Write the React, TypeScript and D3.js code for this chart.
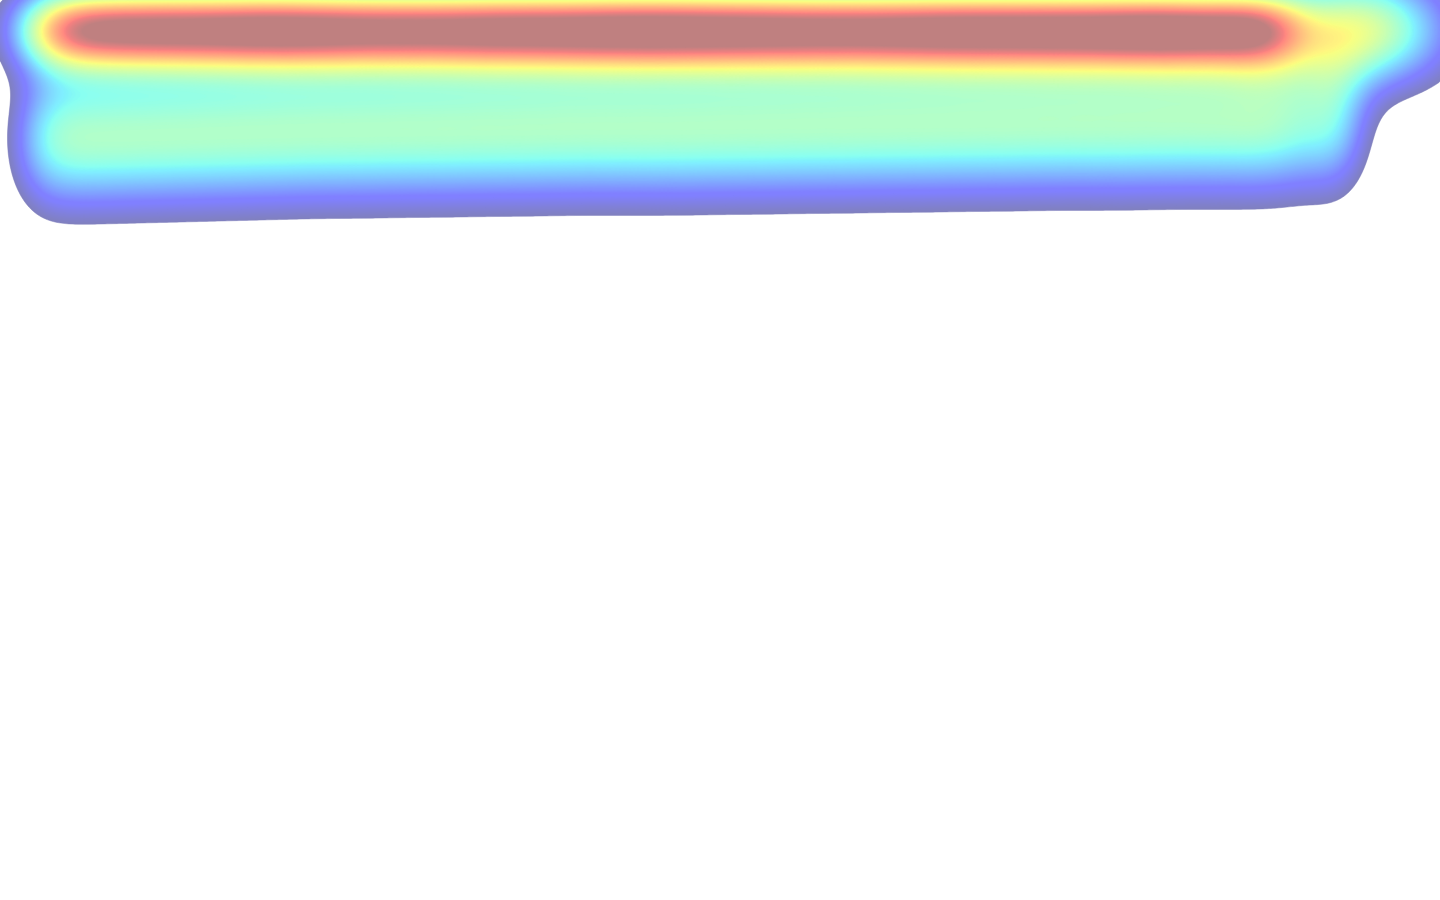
import React, { useEffect, useMemo } from 'react'
import * as d3 from 'd3'

// Gaze fixations (page px, relative dwell)
// Header strip: one long row of fixations along the top of the page
const headerX = [49, 89, 129, 169, 209, 249, 289, 329, 369, 409, 449, 489, 529, 569, 609, 649, 689, 729, 769, 809, 849, 889, 929, 969, 1009, 1049, 1089, 1129, 1169, 1209, 1249, 1275]
const headerY = [29, 29, 29, 29, 29, 29, 29, 29, 29, 29, 29, 29, 29, 29, 29, 29, 29, 29, 29, 29, 29, 29, 29, 29, 29, 29, 29, 29, 29, 29, 29, 29]
const headerDwell = [0.47, 0.48, 0.49, 0.49, 0.49, 0.5, 0.5, 0.49, 0.48, 0.48, 0.48, 0.49, 0.49, 0.49, 0.5, 0.5, 0.5, 0.49, 0.49, 0.48, 0.48, 0.48, 0.49, 0.49, 0.49, 0.49, 0.49, 0.5, 0.5, 0.49, 0.4, 0.3]

// Content block below the header: softer, wider spread
const bodyX = [45, 85, 125, 165, 205, 245, 285, 325, 365, 405, 445, 485, 525, 565, 605, 645, 685, 725, 765, 805, 845, 885, 925, 965, 1005, 1045, 1085, 1125, 1165, 1205, 1245, 1285, 1333]
const bodyY = [139, 138, 137, 136, 135, 134, 133, 132, 132, 131, 131, 130, 130, 129, 129, 129, 129, 128, 128, 127, 127, 126, 126, 125, 125, 124, 124, 124, 123, 123, 123, 123, 123]
const bodyDwell = [0.328, 0.328, 0.328, 0.328, 0.328, 0.328, 0.328, 0.328, 0.328, 0.328, 0.328, 0.328, 0.328, 0.328, 0.328, 0.328, 0.328, 0.328, 0.328, 0.328, 0.328, 0.328, 0.328, 0.328, 0.328, 0.328, 0.328, 0.328, 0.328, 0.328, 0.328, 0.328, 0.355]

// Loose glances past the right end of the header
const tailX = [1362]
const tailY = [30]
const tailDwell = [0.62]

const W = 1440
const H = 900
const HEAT_H = 320 // nothing below this gets any heat
const CELL = 2
const CUT = 0.12 // values under this are left transparent
const LEVELS = 180

// matplotlib "jet", piecewise per channel
const jetR = d3.scaleLinear().domain([0, 0.35, 0.66, 0.89, 1]).range([0, 0, 1, 1, 0.5]).clamp(true)
const jetG = d3.scaleLinear().domain([0, 0.125, 0.375, 0.64, 0.91, 1]).range([0, 0, 1, 1, 0, 0]).clamp(true)
const jetB = d3.scaleLinear().domain([0, 0.11, 0.34, 0.65, 1]).range([0.5, 1, 1, 0, 0]).clamp(true)

// overlay drawn at 50% over white
const heatColor = (t: number) => {
  const mix = (c: number) => Math.round(127.5 + 127.5 * c)
  return d3.rgb(mix(jetR(t)), mix(jetG(t)), mix(jetB(t))).formatHex()
}

export default function App() {
  useEffect(() => {
    document.body.style.margin = '0'
  }, [])

  const layers = useMemo(() => {
    const gw = Math.ceil(W / CELL)
    const gh = Math.ceil(HEAT_H / CELL)
    const grid = new Array(gw * gh).fill(0)

    const x = d3.scaleLinear().domain([0, W]).range([0, gw * CELL])
    const y = d3.scaleLinear().domain([0, HEAT_H]).range([0, gh * CELL])

    const addGroup = (xs: number[], ys: number[], ws: number[], sx: number, sy: number) => {
      xs.forEach((px, k) => {
        const cx = x(px)
        const cy = y(ys[k])
        const gx = d3.range(gw).map(i => Math.exp(-(((i + 0.5) * CELL - cx) ** 2) / (2 * sx * sx)))
        const gy = d3.range(gh).map(j => Math.exp(-(((j + 0.5) * CELL - cy) ** 2) / (2 * sy * sy)))
        for (let j = 0; j < gh; j++) {
          const wy = ws[k] * gy[j]
          if (wy < 1e-5) continue
          const row = j * gw
          for (let i = 0; i < gw; i++) grid[row + i] += wy * gx[i]
        }
      })
    }

    addGroup(headerX, headerY, headerDwell, 33, 30)
    addGroup(bodyX, bodyY, bodyDwell, 26, 50)
    addGroup(tailX, tailY, tailDwell, 60, 41)

    const thresholds = d3.range(LEVELS).map(i => CUT + ((1 - CUT) * i) / (LEVELS - 1))
    const contours = d3.contours().size([gw, gh]).smooth(true).thresholds(thresholds)(grid)
    const path = d3.geoPath(d3.geoIdentity().scale(CELL) as any)

    return contours
      .filter(c => c.coordinates.length > 0)
      .map(c => ({
        d: path(c as any) || '',
        fill: heatColor((c.value - CUT) / (1 - CUT)),
      }))
  }, [])

  return (
    <svg width={W} height={H} style={{ display: 'block', background: '#ffffff' }}>
      <g className="heat">
        {layers.map((l, i) => (
          <path key={i} d={l.d} fill={l.fill} stroke={l.fill} strokeWidth={0.5} />
        ))}
      </g>
    </svg>
  )
}
